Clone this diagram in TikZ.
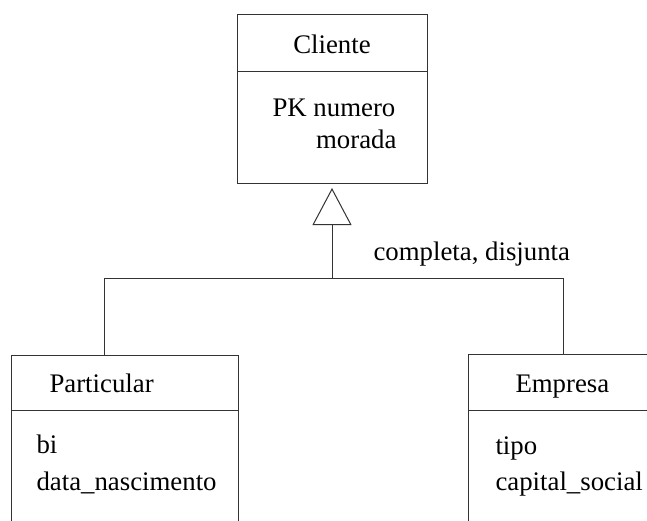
\documentclass[tikz,border=0pt]{standalone}
\usepackage{fontspec}
\setmainfont{Liberation Serif}
\usetikzlibrary{arrows.meta,calc}
\begin{document}
\begin{tikzpicture}[x=1pt,y=-1pt,line width=1pt,
  box/.style={draw=black!80,line width=1pt,inner sep=0pt,outer sep=0pt,anchor=north west},
  lbl/.style={inner sep=0pt,font=\fontsize{26.8}{32}\selectfont},
  sep/.style={draw=black!80,line width=1pt}]
\clip (0,0) rectangle (647,520);
\fill[white] (0,0) rectangle (647,520);
% boxes
\node[box,minimum width=190pt,minimum height=169pt] (cliente) at (237,14) {};
\node[box,minimum width=227pt,minimum height=185pt] (particular) at (11,355) {};
\node[box,minimum width=200pt,minimum height=186pt] (empresa) at (468,354) {};
% dividers
\draw[sep] ($(cliente.north west)+(0,57)$) -- ($(cliente.north east)+(0,57)$);
\draw[sep] ($(particular.north west)+(0,55)$) -- ($(particular.north east)+(0,55)$);
\draw[sep] ($(empresa.north west)+(0,56)$) -- ($(empresa.north east)+(0,56)$);
% texts
\node[lbl,anchor=base] (tc) at (332,53) {Cliente};
\node[lbl,anchor=base west] (tpk) at (272,116) {PK numero};
\node[lbl,anchor=base east] (tmor) at (397,148) {morada};
\node[lbl,anchor=base west] (tcd) at (373,260) {completa, disjunta};
\node[lbl,anchor=base west] (tp) at (49,392) {Particular};
\node[lbl,anchor=base west] (tbi) at (36,453) {bi};
\node[lbl,anchor=base west] (tdn) at (36,490) {data\_nascimento};
\node[lbl,anchor=base west] (te) at (515,392) {Empresa};
\node[lbl,anchor=base west] (tt) at (495,454) {tipo};
\node[lbl,anchor=base west] (tcs) at (495,490) {capital\_social};
% connectors
\coordinate (j) at (332,278.5);
\draw[black!80,-{Triangle[open,length=37pt,width=39pt,line width=1pt]},shorten >=5pt] (j) -- (cliente.south);
\draw[black!80] ($(particular.north west)+(93,0)$) |- (j) -| ($(empresa.north west)+(95,0)$);
\end{tikzpicture}
\end{document}
